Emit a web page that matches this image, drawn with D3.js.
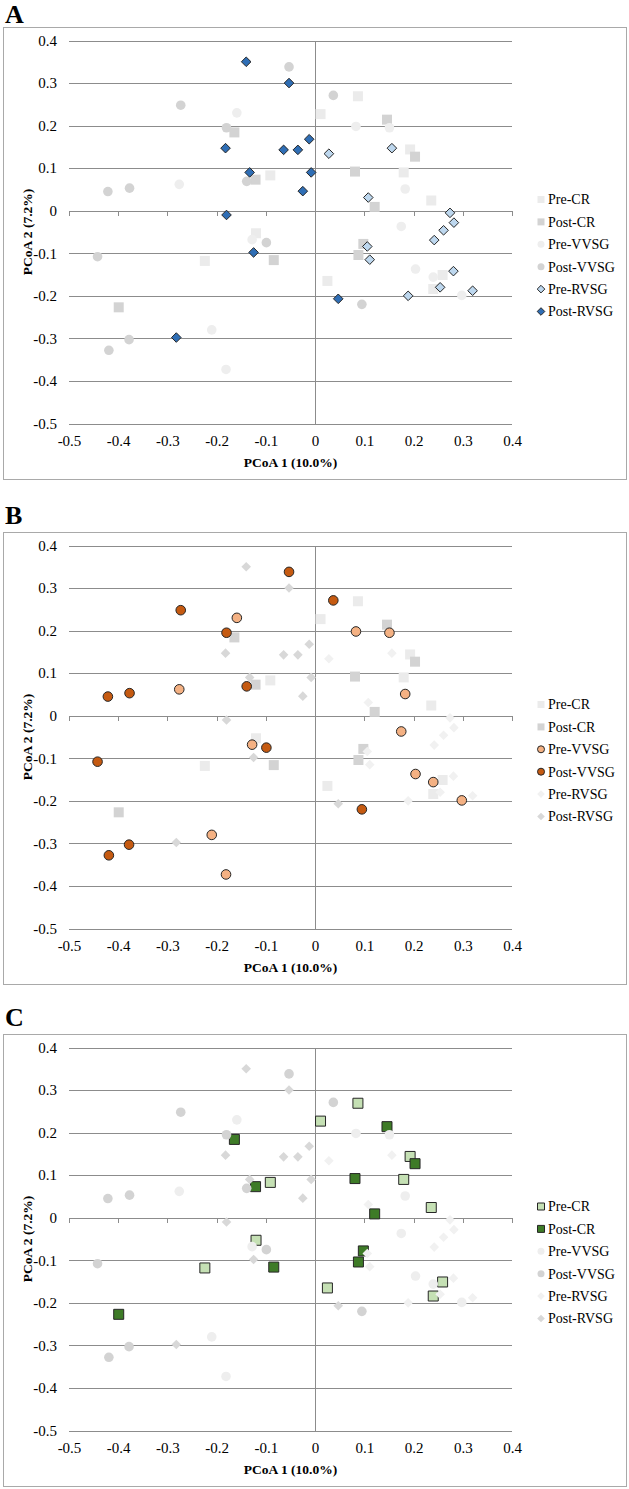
<!DOCTYPE html>
<html>
<head>
<meta charset="utf-8">
<script src="https://cdn.jsdelivr.net/npm/d3@7/dist/d3.min.js"></script>
<style>
  html, body { margin: 0; padding: 0; background: #fff; }
  svg { display: block; }
  text { font-family: "Liberation Serif", "Times New Roman", serif; fill: #000; }
</style>
</head>
<body>
<svg id="chart" width="629" height="1489"></svg>
<script>
// ---------- data ----------
const seriesNames = ["Pre-CR", "Post-CR", "Pre-VVSG", "Post-VVSG", "Pre-RVSG", "Post-RVSG"];
const seriesGroups = ["CR", "CR", "VVSG", "VVSG", "RVSG", "RVSG"];
const seriesShapes = ["square", "square", "circle", "circle", "diamond", "diamond"];

const preCR = [[0.087,0.269],[0.011,0.227],[0.193,0.144],[0.180,0.090],[0.236,0.024],[-0.091,0.083],
  [-0.120,-0.053],[-0.224,-0.118],[0.025,-0.165],[0.259,-0.151],[0.240,-0.184]];
const postCR = [[-0.164,0.184],[-0.121,0.073],[0.146,0.214],[0.203,0.127],[0.081,0.092],[0.121,0.009],
  [-0.084,-0.116],[-0.399,-0.227],[0.098,-0.078],[0.088,-0.104]];
const preVVSG = [[-0.159,0.230],[-0.276,0.062],[-0.128,-0.068],[0.083,0.198],[0.151,0.195],[0.183,0.051],
  [0.175,-0.037],[-0.210,-0.280],[-0.181,-0.373],[0.204,-0.137],[0.240,-0.156],[0.298,-0.199]];
const postVVSG = [[-0.053,0.338],[-0.273,0.248],[-0.180,0.195],[-0.139,0.069],[-0.421,0.045],[-0.377,0.053],
  [-0.099,-0.075],[0.037,0.271],[-0.442,-0.108],[-0.378,-0.303],[-0.419,-0.328],[0.095,-0.220]];
const preRVSG = [[0.028,0.134],[0.156,0.147],[0.108,0.031],[0.274,-0.005],[0.282,-0.028],[0.261,-0.046],
  [0.242,-0.069],[0.106,-0.084],[0.111,-0.115],[0.281,-0.142],[0.254,-0.180],[0.320,-0.188],[0.189,-0.200]];
const postRVSG = [[-0.140,0.350],[-0.053,0.300],[-0.182,0.147],[-0.064,0.143],[-0.035,0.143],[-0.012,0.168],
  [-0.133,0.090],[-0.008,0.090],[-0.025,0.046],[-0.180,-0.010],[-0.125,-0.098],[-0.282,-0.298],[0.047,-0.207]];
const seriesValues = [preCR, postCR, preVVSG, postVVSG, preRVSG, postRVSG];

const xTicks = [-0.5,-0.4,-0.3,-0.2,-0.1,0,0.1,0.2,0.3,0.4];
const xTickLabels = ["-0.5","-0.4","-0.3","-0.2","-0.1","0","0.1","0.2","0.3","0.4"];
const yTicks = [0.4,0.3,0.2,0.1,0,-0.1,-0.2,-0.3,-0.4,-0.5];
const yTickLabels = ["0.4","0.3","0.2","0.1","0","-0.1","-0.2","-0.3","-0.4","-0.5"];

const panelLabels = ["A", "B", "C"];
const panelHighlight = ["RVSG", "VVSG", "CR"];
const xTitle = "PCoA 1 (10.0%)";
const yTitle = "PCoA 2 (7.2%)";

// ---------- styles ----------
const grayFill = ["#ebebeb", "#d3d3d3", "#eeeeee", "#d3d3d3", "#f1f1f1", "#d8d8d8"];
const hiFill = ["#c5e0b4", "#3e7b27", "#f4b183", "#c55a11", "#bdd7ee", "#2f6eb5"];
const hiStroke = "#262626";
const gridColor = "#8c8c8c";

// ---------- layout ----------
const panelTops = [27, 532, 1034];
const boxH = 452;
const plotTopOffset = 13.5;
const plotH = 383;
const plotLeft = 69, plotRight = 512;

const svg = d3.select("#chart");

function shapePath(shape, s) {
  if (shape === "square") {
    return d3.symbol().type(d3.symbolSquare).size(s * s)();
  } else if (shape === "circle") {
    return d3.symbol().type(d3.symbolCircle).size(Math.PI * (s / 2) * (s / 2))();
  } else {
    const r = s / 2;
    return `M0,${-r}L${r},0L0,${r}L${-r},0Z`;
  }
}
const markerSize = { square: 10, circle: 9.6, diamond: 9.6 };
const legendSize = { square: 7, circle: 7, diamond: 7.6 };

panelLabels.forEach((label, pi) => {
  const top = panelTops[pi];
  const g = svg.append("g");

  g.append("text")
    .attr("x", 5)
    .attr("y", top - (pi === 0 ? 4 : 8))
    .attr("font-size", 26)
    .attr("font-weight", "bold")
    .text(label);

  g.append("rect")
    .attr("x", 3.5).attr("y", top + 0.5)
    .attr("width", 623).attr("height", boxH)
    .attr("fill", "#fff").attr("stroke", "#a9a9a9").attr("stroke-width", 1);

  const x = d3.scaleLinear().domain([-0.5, 0.4]).range([plotLeft, plotRight]);
  const y = d3.scaleLinear().domain([-0.5, 0.4]).range([top + plotTopOffset + plotH, top + plotTopOffset]);

  // horizontal gridlines + y tick labels
  const yAxis = g.append("g")
    .attr("transform", `translate(${plotLeft},0)`)
    .call(d3.axisLeft(y).tickValues(yTicks)
      .tickFormat((d, i) => yTickLabels[i])
      .tickSize(-(plotRight - plotLeft)).tickPadding(12));
  yAxis.select(".domain").remove();
  yAxis.selectAll(".tick line").attr("stroke", gridColor).attr("stroke-width", 1).attr("shape-rendering", "crispEdges");
  yAxis.selectAll(".tick text").attr("font-size", 15).attr("font-family", "Liberation Serif, serif").attr("fill", "#000");

  // x tick labels at bottom
  const xLab = g.append("g")
    .attr("transform", `translate(0,${y(-0.5)})`)
    .call(d3.axisBottom(x).tickValues(xTicks)
      .tickFormat((d, i) => xTickLabels[i])
      .tickSize(0).tickPadding(12));
  xLab.select(".domain").remove();
  xLab.selectAll(".tick text").attr("font-size", 15).attr("font-family", "Liberation Serif, serif").attr("fill", "#000");

  // x axis line at y=0 with tick marks
  const xAx = g.append("g")
    .attr("transform", `translate(0,${y(0)})`)
    .call(d3.axisBottom(x).tickValues(xTicks).tickFormat("").tickSize(5).tickSizeOuter(0));
  xAx.select(".domain").attr("stroke", gridColor).attr("shape-rendering", "crispEdges");
  xAx.selectAll(".tick line").attr("stroke", gridColor).attr("shape-rendering", "crispEdges");

  // vertical axis at x=0
  g.append("line")
    .attr("x1", x(0)).attr("x2", x(0))
    .attr("y1", y(0.4)).attr("y2", y(-0.5))
    .attr("stroke", gridColor).attr("stroke-width", 1).attr("shape-rendering", "crispEdges");

  // axis titles
  g.append("text")
    .attr("x", (plotLeft + plotRight) / 2)
    .attr("y", y(-0.5) + 43)
    .attr("text-anchor", "middle")
    .attr("font-size", 13.5).attr("font-weight", "bold")
    .text(xTitle);
  g.append("text")
    .attr("transform", `translate(32,${(y(0.4) + y(-0.5)) / 2}) rotate(-90)`)
    .attr("text-anchor", "middle")
    .attr("font-size", 13.5).attr("font-weight", "bold")
    .text(yTitle);

  // points
  seriesNames.forEach((name, si) => {
    const hi = seriesGroups[si] === panelHighlight[pi];
    const shape = seriesShapes[si];
    g.append("g").selectAll("path")
      .data(seriesValues[si])
      .join("path")
      .attr("transform", d => `translate(${x(d[0])},${y(d[1])})`)
      .attr("d", shapePath(shape, markerSize[shape]))
      .attr("fill", hi ? hiFill[si] : grayFill[si])
      .attr("stroke", hi ? hiStroke : "none")
      .attr("stroke-width", hi ? 1 : 0);
  });

  // legend
  const legTop = y(0.4) + 159;
  seriesNames.forEach((name, si) => {
    const hi = seriesGroups[si] === panelHighlight[pi];
    const shape = seriesShapes[si];
    const ly = legTop + si * 22.4;
    g.append("path")
      .attr("transform", `translate(541,${ly})`)
      .attr("d", shapePath(shape, legendSize[shape]))
      .attr("fill", hi ? hiFill[si] : grayFill[si])
      .attr("stroke", hi ? hiStroke : "none")
      .attr("stroke-width", hi ? 1 : 0);
    g.append("text")
      .attr("x", 548)
      .attr("y", ly)
      .attr("dy", "0.35em")
      .attr("font-size", 14)
      .text(name);
  });
});
</script>
</body>
</html>
